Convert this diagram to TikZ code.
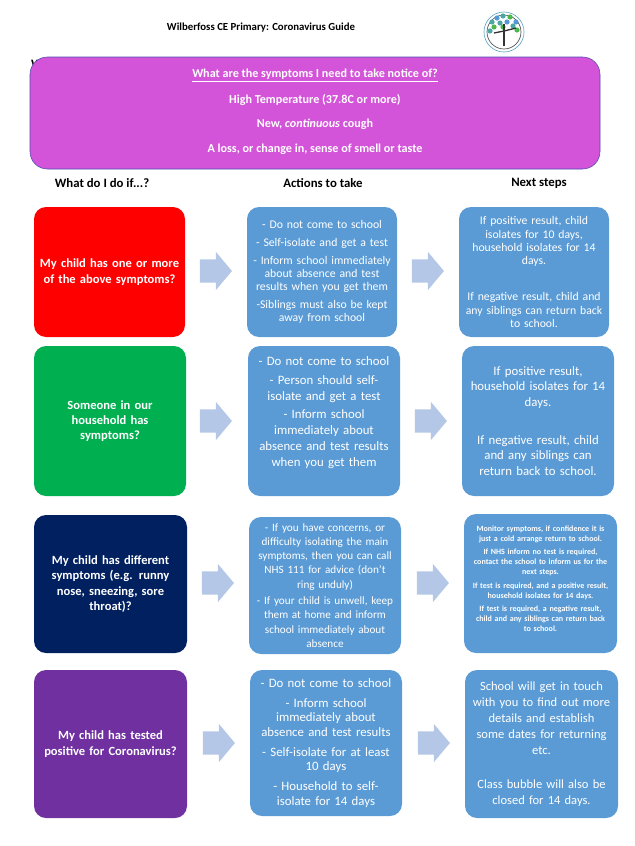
\documentclass[tikz,border=0pt]{standalone}
\usepackage{fontspec}
\setmainfont{Carlito}
\usetikzlibrary{shapes,arrows,positioning}

\definecolor{bannerpink}{HTML}{D354D8}
\definecolor{actionblue}{HTML}{5B9BD5}
\definecolor{arrowblue}{HTML}{B4C7E7}
\definecolor{schoolred}{HTML}{FF0000}
\definecolor{schoolgreen}{HTML}{00B050}
\definecolor{schoolnavy}{HTML}{002060}
\definecolor{schoolpurple}{HTML}{7030A0}

\tikzset{
    headtext/.style={font=\bfseries\fontsize{9.6}{12}\selectfont, text=black, inner sep=0pt},
    bannertext/.style={font=\bfseries\fontsize{9.1}{12}\selectfont, text=white, inner sep=0pt},
    roundbox/.style={rounded corners=9pt, text=white, align=center, inner sep=0pt, text width=116pt},
    askbox/.style={roundbox, font=\bfseries\fontsize{9.4}{11.5}\selectfont},
    actionbox/.style={roundbox, fill=actionblue},
    blockarrow/.style={single arrow, fill=arrowblue, minimum width=28.5pt, minimum height=24pt, single arrow head extend=5.6pt, single arrow tip angle=100, inner xsep=0pt, inner ysep=8.6pt}
}

\begin{document}
\begin{tikzpicture}[x=0.75pt, y=-0.75pt]
    \useasboundingbox (0,0) rectangle (635,846);

    % Heading
    \node[headtext, font=\bfseries\fontsize{8.1}{10}\selectfont] (title) at (261,28) {Wilberfoss CE Primary: Coronavirus Guide};

    % Logo
    \draw[black!70, line width=0.5pt] (504,32) circle (17);
    \draw[cyan!50!gray, line width=0.5pt] (504,32) circle (20);
    \foreach \dotx/\doty/\dotcol in {492/22/teal, 497/18/cyan!60!blue, 503/16/teal, 510/17/green!60!black, 516/22/cyan!60!blue, 494/27/green!60!black, 500/23/teal, 507/22/cyan!60!blue, 513/26/teal, 517/30/green!60!black, 490/31/teal, 503/27/green!60!black}
        \fill[\dotcol!70] (\dotx,\doty) circle (2.6);
    \draw[black!80, line width=1.2pt] (504,46) -- (504,24);
    \draw[black!80, line width=1pt] (494,33) -- (504,31) -- (516,28);

    % Hidden letter behind the banner
    \node[headtext] (hidden) at (37,64) {W};

    % Symptoms banner
    \node[rounded corners=13pt, draw=blue!40!gray, fill=bannerpink, minimum width=427.5pt, minimum height=84pt, inner sep=0pt] (banner) at (315,113) {};
    \node[bannertext] (symptoms) at (315,76) {\underline{What are the symptoms I need to take notice of?}};
    \node[bannertext] (temperature) at (315,100) {High Temperature (37.8C or more)};
    \node[bannertext] (cough) at (315,124) {New, \textit{continuous} cough};
    \node[bannertext] (smell) at (315,149) {A loss, or change in, sense of smell or taste};

    % Column titles
    \node[headtext] (whatif) at (102,183) {What do I do if...?};
    \node[headtext] (actions) at (323,183) {Actions to take};
    \node[headtext] (next) at (539,183) {Next steps};

    % First row
    \node[askbox, fill=schoolred, minimum width=113.25pt, minimum height=97.5pt, text width=113.25pt] (redask) at (109.5,272) {My child has one or more\\of the above symptoms?};
    \node[actionbox, minimum width=112.5pt, minimum height=97.5pt, text width=112.5pt, font=\fontsize{8.8}{9.8}\selectfont] (redaction) at (322,272) {- Do not come to school\\[3.8pt]- Self-isolate and get a test\\[3.8pt]- Inform school immediately\\about absence and test\\results when you get them\\[3.8pt]-Siblings must also be kept\\away from school};
    \node[actionbox, minimum width=112.5pt, minimum height=97.5pt, text width=112.5pt, font=\fontsize{8.8}{10}\selectfont] (rednext) at (534,272) {If positive result, child\\isolates for 10 days,\\household isolates for 14\\days.\\[17pt]If negative result, child and\\any siblings can return back\\to school.};
    \node[blockarrow] (redarrowa) at (211,271) {};
    \node[blockarrow] (redarrowb) at (423,271) {};

    % Second row
    \node[askbox, fill=schoolgreen, minimum width=114pt, minimum height=112.5pt, text width=114pt] (greenask) at (110,421) {Someone in our\\household has\\symptoms?};
    \node[actionbox, minimum width=114pt, minimum height=112.5pt, text width=114pt, font=\fontsize{9.6}{12}\selectfont] (greenaction) at (324,421) {- Do not come to school\\[2pt]- Person should self-\\isolate and get a test\\[2pt]- Inform school\\immediately about\\absence and test results\\when you get them\\[-1.5pt]\strut};
    \node[actionbox, minimum width=114pt, minimum height=112.5pt, text width=114pt, font=\fontsize{9.6}{11.6}\selectfont] (greennext) at (538,421) {If positive result,\\household isolates for 14\\days.\\[17pt]If negative result, child\\and any siblings can\\return back to school.};
    \node[blockarrow] (greenarrowa) at (211,421) {};
    \node[blockarrow] (greenarrowb) at (426,421) {};

    % Third row
    \node[askbox, fill=schoolnavy, minimum width=114.75pt, minimum height=103.5pt, text width=114.75pt] (navyask) at (110.5,584) {My child has different\\symptoms (e.g. runny\\nose, sneezing, sore\\throat)?};
    \node[actionbox, minimum width=114pt, minimum height=102.75pt, text width=114pt, font=\fontsize{8.4}{10.6}\selectfont] (navyaction) at (325,585.5) {- If you have concerns, or\\difficulty isolating the main\\symptoms, then you can call\\NHS 111 for advice (don't\\ring unduly)\\[2pt]- If your child is unwell, keep\\them at home and inform\\school immediately about\\absence};
    \node[actionbox, minimum width=114.75pt, minimum height=104.25pt, text width=114.75pt, font=\bfseries\fontsize{6}{7.5}\selectfont] (navynext) at (540.5,583.5) {Monitor symptoms, if confidence it is\\just a cold arrange return to school.\\[2.5pt]If NHS inform no test is required,\\contact the school to inform us for the\\next steps.\\[2.5pt]If test is required, and a positive result,\\household isolates for 14 days.\\[2.5pt]If test is required, a negative result,\\child and any siblings can return back\\to school.\\[-2.5pt]\strut};
    \node[blockarrow] (navyarrowa) at (213,583) {};
    \node[blockarrow] (navyarrowb) at (428,583) {};

    % Fourth row
    \node[askbox, fill=schoolpurple, minimum width=114.75pt, minimum height=111pt, text width=114.75pt] (purpleask) at (110.5,744) {My child has tested\\positive for Coronavirus?};
    \node[actionbox, minimum width=114pt, minimum height=109.5pt, text width=114pt, font=\fontsize{9.6}{10.9}\selectfont] (purpleaction) at (326,743) {- Do not come to school\\[4pt]- Inform school\\immediately about\\absence and test results\\[4pt]- Self-isolate for at least\\10 days\\[4pt]- Household to self-\\isolate for 14 days};
    \node[actionbox, minimum width=114.75pt, minimum height=111pt, text width=114.75pt, font=\fontsize{9.4}{12}\selectfont] (purplenext) at (541.5,744) {School will get in touch\\with you to find out more\\details and establish\\some dates for returning\\etc.\\[14pt]Class bubble will also be\\closed for 14 days.};
    \node[blockarrow] (purplearrowa) at (214,743) {};
    \node[blockarrow] (purplearrowb) at (429,743) {};
\end{tikzpicture}
\end{document}
